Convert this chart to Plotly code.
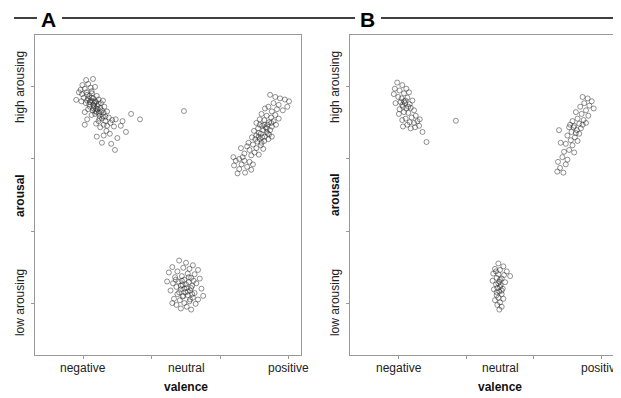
import plotly.graph_objects as go

# ---- Data (valence / arousal ratings, 1-9 scale) ----
neg_a = [(2.09,8.19),(2.29,8.22),(1.98,8.05),(2.15,8.08),(1.93,7.92),(2.22,7.98),(2.05,7.95),(2.35,8.0),(1.88,7.85),
         (1.80,7.64),(1.97,7.80),(2.10,7.85),(2.18,7.75),(2.26,7.82),(2.02,7.70),(2.12,7.62),(2.30,7.68),(2.40,7.75),
         (2.58,7.62),(2.20,7.58),(2.08,7.55),(1.95,7.60),(2.35,7.60),(2.45,7.65),(2.25,7.70),(2.15,7.68),
         (2.20,7.45),(2.30,7.50),(2.38,7.40),(2.45,7.52),(2.28,7.35),(2.50,7.42),(2.15,7.38),(2.40,7.30),(2.55,7.35),
         (2.35,7.25),(2.60,7.28),(2.48,7.20),(2.25,7.22),(2.62,7.45),(2.70,7.32),(2.05,7.30),(2.42,7.47),(2.33,7.55),(2.52,7.55),
         (2.55,7.12),(2.65,7.05),(2.75,7.15),(2.45,7.05),(2.60,6.95),(2.80,7.00),(2.70,6.92),(2.38,6.98),(2.85,7.08),
         (2.50,6.88),(2.12,7.10),(2.05,6.95),(2.90,6.90),(3.10,6.92),(2.95,7.10),
         (2.40,6.62),(2.55,6.45),(2.78,6.70),(2.82,6.42),(2.93,6.25),(3.25,6.75),(2.68,6.78),(3.00,6.58),(2.60,6.65),
         (3.40,7.25),(3.66,7.10),(3.15,7.05),
         (2.22,7.62),(2.32,7.45),(2.18,7.52),(2.28,7.60),(2.38,7.58),(2.42,7.38),(2.36,7.33),(2.52,7.30),(2.58,7.18),
         (2.46,7.28),(2.12,7.78),(2.25,7.88),(2.30,7.40),(2.48,7.12),(2.65,7.18)]
pos_a = [(7.45,7.78),(7.60,7.72),(7.74,7.68),(7.88,7.65),(8.00,7.60),(7.55,7.55),(7.70,7.50),(7.95,7.45),(7.40,7.45),
         (7.65,7.38),(7.82,7.35),(7.50,7.32),(7.30,7.40),
         (7.20,7.25),(7.35,7.20),(7.48,7.15),(7.60,7.22),(7.28,7.08),(7.42,7.02),(7.55,7.05),(7.15,7.10),(7.70,7.12),
         (7.38,6.95),(7.05,7.00),(7.22,6.92),(7.50,6.90),(7.62,6.95),
         (7.10,6.85),(7.25,6.80),(7.35,6.75),(7.18,6.70),(7.30,6.62),(7.42,6.68),(7.05,6.65),(7.15,6.55),(7.28,6.50),
         (7.45,6.80),(6.98,6.78),(7.40,6.55),(7.08,6.48),(7.22,6.60),(7.32,6.88),(7.12,6.72),(6.92,6.60),(7.50,6.62),
         (6.95,6.40),(7.05,6.30),(7.18,6.38),(6.85,6.25),(7.00,6.18),(7.12,6.12),(6.78,6.35),(6.90,6.10),(7.25,6.28),
         (6.70,6.15),(6.60,6.30),(6.82,6.45),
         (6.55,6.00),(6.70,5.95),(6.85,5.92),(6.45,5.95),(6.62,5.85),(6.78,5.78),(6.40,5.82),(6.55,5.72),(6.90,5.70),
         (6.72,5.62),(6.50,5.60),(6.65,6.05),(6.95,5.85),(6.38,6.05),
         (7.20,6.45),(7.35,6.85),(7.28,6.95),(7.12,6.62),(7.02,6.55),(7.38,6.70),(7.48,7.00),(7.15,6.95)]
neu_a = [(4.80,3.18),(5.00,3.12),(5.20,3.05),(4.60,3.00),(4.92,2.98),(5.10,2.95),(5.35,2.92),(4.50,2.85),(4.75,2.88),
         (5.05,2.82),(5.25,2.80),(4.88,2.75),(4.68,2.72),(5.15,2.70),(5.40,2.68),(4.95,2.65),(4.78,2.60),(5.08,2.58),
         (5.30,2.55),(4.62,2.55),(4.90,2.50),(5.18,2.48),(4.72,2.45),(5.02,2.42),(5.45,2.40),(4.85,2.38),(5.12,2.35),
         (4.55,2.35),(4.98,2.30),(5.25,2.28),(4.75,2.25),(5.05,2.22),(4.90,2.18),(5.20,2.15),(4.65,2.12),(5.35,2.10),
         (4.82,2.08),(5.10,2.05),(4.95,2.00),(4.72,1.95),(5.28,1.98),(5.02,1.90),(4.85,1.85),(5.15,1.82),(4.60,2.00),
         (5.50,2.20),(4.45,2.60),(5.08,2.72),(4.88,2.62),(5.00,2.52),(4.95,2.40),(5.15,2.42),(4.80,2.30),(5.05,2.32),
         (4.92,2.20),(5.18,2.25),(4.70,2.65),(5.22,2.62),(4.85,2.48),(5.12,2.10),
         (4.94,7.33)]
neg_b = [(1.95,8.12),(2.10,8.05),(1.88,7.95),(2.02,7.90),(2.22,7.95),(1.85,7.80),(2.15,7.82),(2.30,7.85),(1.98,7.72),
         (2.08,7.68),(2.25,7.70),(2.40,7.62),(1.90,7.55),(2.05,7.58),(2.18,7.55),(2.32,7.52),(2.12,7.45),(2.22,7.40),
         (2.35,7.42),(2.02,7.38),(2.45,7.35),(2.15,7.30),(2.28,7.28),(2.50,7.20),(2.38,7.15),(2.20,7.12),(2.55,7.05),
         (2.10,7.08),(2.32,7.02),(2.45,7.00),(2.62,7.10),(2.00,7.25),(2.25,6.95),(2.48,6.88),(2.60,6.92),(2.35,6.85),
         (2.12,6.90),(2.70,6.75),(2.82,6.47),(3.69,7.06),(2.15,7.60),(2.10,7.50),(2.20,7.62),(2.28,7.45)]
pos_b = [(7.45,7.72),(7.60,7.68),(7.72,7.60),(7.50,7.55),(7.65,7.48),(7.38,7.45),(7.78,7.40),(7.55,7.35),(7.25,7.30),
         (7.42,7.25),(7.62,7.20),(7.30,7.12),(7.48,7.08),(7.15,7.05),(7.35,6.98),(7.55,7.00),(7.20,6.92),(7.05,6.88),
         (7.40,6.85),(7.28,6.80),(6.75,6.80),(7.12,6.75),(7.35,6.70),(7.00,6.65),(7.22,6.60),(7.10,6.52),(6.80,6.45),
         (7.30,6.50),(6.95,6.42),(7.15,6.38),(7.05,6.25),(6.90,6.20),(7.20,6.18),(6.85,6.05),(7.00,5.98),(6.72,5.92),
         (6.95,5.85),(6.78,5.75),(6.70,5.65),(6.88,5.62),(7.18,6.88),(7.25,6.72),(7.08,6.95),(7.45,6.95)]
neu_b = [(4.95,3.10),(5.10,3.02),(4.85,2.95),(5.00,2.92),(5.20,2.88),(4.80,2.82),(4.95,2.80),(5.12,2.78),(5.30,2.75),
         (4.90,2.70),(5.05,2.68),(4.78,2.62),(4.98,2.60),(5.15,2.58),(4.88,2.52),(5.02,2.50),(4.92,2.42),(5.08,2.40),
         (4.82,2.38),(4.98,2.32),(5.05,2.25),(4.90,2.22),(4.95,2.15),(5.10,2.12),(4.85,2.08),(5.00,2.02),(4.92,1.95),
         (5.05,1.90),(4.98,1.82),(5.00,2.45),(4.95,2.55),(5.05,2.35),(4.90,2.30),(5.00,2.65),(4.88,2.88)]

valence_labels = ["negative", "neutral", "positive"]
valence_pos = [2, 5, 8]
arousal_labels = ["low arousing", "high arousing"]
arousal_pos = [2, 8]
panel_letters = ["A", "B"]

# The page body has an 8px margin, so the figure is laid out in page pixels minus 8.
OFF = 8
W, H = 621 - OFF, 398 - OFF
def px(x): return (x - OFF) / W
def py(y): return 1 - (y - OFF) / H

FONT = "Liberation Sans, Arial, sans-serif"
mk = dict(symbol="circle-open", size=5, color="rgba(40,40,40,0.5)", line=dict(width=1))

fig = go.Figure()
for pts, xa, ya in [(neg_a, "x", "y"), (pos_a, "x", "y"), (neu_a, "x", "y"),
                    (neg_b, "x2", "y2"), (pos_b, "x2", "y2"), (neu_b, "x2", "y2")]:
    fig.add_trace(go.Scatter(x=[p[0] for p in pts], y=[p[1] for p in pts], mode="markers",
                             marker=mk, xaxis=xa, yaxis=ya, showlegend=False, hoverinfo="skip"))

ax_common = dict(showline=True, mirror=True, linecolor="#999", linewidth=1, ticks="outside",
                 ticklen=3, tickcolor="#999", showticklabels=False, showgrid=False, zeroline=False,
                 tickvals=[2, 4, 6, 8])
doms = [(px(35), px(301)), (px(350), px(618))]
ydom = (py(355), py(35))
fig.update_layout(
    width=W, height=H, margin=dict(l=0, r=0, t=0, b=0),
    plot_bgcolor="white", paper_bgcolor="white",
    xaxis=dict(domain=doms[0], range=[0.6, 8.35], anchor="y", **ax_common),
    yaxis=dict(domain=ydom, range=[0.56, 9.44], anchor="x", **ax_common),
    xaxis2=dict(domain=doms[1], range=[0.55, 8.5], anchor="y2", **ax_common),
    yaxis2=dict(domain=ydom, range=[0.56, 9.44], anchor="x2", **ax_common),
)

ann = []
shapes = []
tf = dict(family=FONT, size=12, color="#222")
bf = dict(family=FONT, size=12, color="#111")
for i, (xr, yr) in enumerate([("x", "y"), ("x2", "y2")]):
    lx = [20, 335][i]
    for lab, v in zip(valence_labels, valence_pos):
        ann.append(dict(x=v, xref=xr, y=py(368), yref="paper", text=lab, showarrow=False,
                        font=tf, xanchor="center", yanchor="middle"))
    ann.append(dict(x=5, xref=xr, y=py(387), yref="paper", text="<b>valence</b>", showarrow=False,
                    font=bf, xanchor="center", yanchor="middle"))
    for lab, v in zip(arousal_labels, arousal_pos):
        ann.append(dict(x=px(lx), xref="paper", y=v, yref=yr, text=lab, showarrow=False, textangle=-90,
                        font=tf, xanchor="center", yanchor="middle"))
    ann.append(dict(x=px(lx), xref="paper", y=5, yref=yr, text="<b>arousal</b>", showarrow=False, textangle=-90,
                    font=bf, xanchor="center", yanchor="middle"))

# panel headers
for letter, lxp in zip(panel_letters, [48, 367]):
    ann.append(dict(x=px(lxp), y=py(19), xref="paper", yref="paper", text="<b>" + letter + "</b>",
                    showarrow=False, font=dict(family=FONT, size=21, color="#000"),
                    xanchor="center", yanchor="middle"))
for x0, x1 in [(14, 37), (62, 355), (381, 621)]:
    shapes.append(dict(type="line", xref="paper", yref="paper", x0=px(x0), x1=px(x1),
                       y0=py(18), y1=py(18), line=dict(color="#000", width=1.5)))
fig.update_layout(annotations=ann, shapes=shapes)

fig.write_html("out.html")
